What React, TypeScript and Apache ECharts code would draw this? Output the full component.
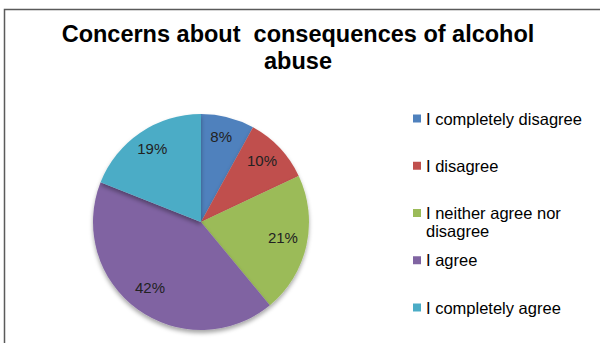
import React, { useEffect, useRef } from "react";
import * as echarts from "echarts";

const categories = [
  "I completely disagree",
  "I disagree",
  "I neither agree nor disagree",
  "I agree",
  "I completely agree",
];
const values = [8, 10, 21, 42, 19];
const colors = ["#4F81BD", "#C0504D", "#9BBB59", "#8064A2", "#4BACC6"];
const titleText = "Concerns about  consequences of alcohol\nabuse";

export default function App() {
  const ref = useRef<HTMLDivElement>(null);
  useEffect(() => {
    if (!ref.current) return;
    const chart = echarts.init(ref.current, undefined, { renderer: "svg" });
    const data = categories.map((name, i) => ({
      name,
      value: values[i],
      itemStyle: { color: colors[i] },
    }));
    const labelData = categories.map((name, i) => ({
      name,
      value: values[i],
      itemStyle: { color: "rgba(0,0,0,0)", borderWidth: 0 },
    }));
    chart.setOption({
      animation: false,
      backgroundColor: "#ffffff",
      title: {
        text: titleText,
        left: 298,
        textAlign: "center",
        top: 20,
        padding: 0,
        textStyle: {
          fontFamily: "Liberation Sans, Arial, sans-serif",
          fontSize: 23.5,
          fontWeight: "bold",
          color: "#000000",
          lineHeight: 27,
        },
      },
      legend: {
        orient: "vertical",
        left: 413,
        top: 110,
        padding: 0,
        itemWidth: 8,
        itemHeight: 8,
        itemGap: 30.25,
        icon: "rect",
        selectedMode: false,
        formatter: (name: string) =>
          name === "I neither agree nor disagree" ? "I neither agree nor" : name,
        textStyle: {
          fontFamily: "Liberation Sans, Arial, sans-serif",
          fontSize: 16.5,
          color: "#000000",
          lineHeight: 16,
        },
        data: categories,
      },
      graphic: [
        {
          type: "rect",
          shape: { x: 4.5, y: 9.5, width: 700, height: 400 },
          style: { fill: "none", stroke: "#5a5a5a", lineWidth: 1.5 },
          silent: true,
        },
        {
          type: "text",
          left: 426,
          top: 222,
          style: {
            text: "disagree",
            fontFamily: "Liberation Sans, Arial, sans-serif",
            fontSize: 16.5,
            fill: "#000000",
          },
        },
      ],
      series: [
        {
          type: "pie",
          center: [201, 222],
          radius: [0, 108],
          startAngle: 90,
          clockwise: true,
          label: { show: false },
          labelLine: { show: false },
          emphasis: { disabled: true },
          itemStyle: {
            shadowColor: "rgba(0,0,0,0.35)",
            shadowBlur: 4,
            shadowOffsetY: 3,
          },
          data,
        },
        {
          type: "pie",
          center: [200, 219],
          radius: [57, 107],
          startAngle: 90,
          clockwise: true,
          silent: true,
          legendHoverLink: false,
          label: {
            show: true,
            position: "inside",
            formatter: "{c}%",
            fontFamily: "Liberation Sans, Arial, sans-serif",
            fontSize: 15,
            color: "#222222",
          },
          labelLine: { show: false },
          emphasis: { disabled: true },
          data: labelData,
        },
      ],
    });
    return () => chart.dispose();
  }, []);
  return (
    <div
      ref={ref}
      style={{ position: "fixed", left: 0, top: 0, width: 600, height: 343 }}
    />
  );
}
